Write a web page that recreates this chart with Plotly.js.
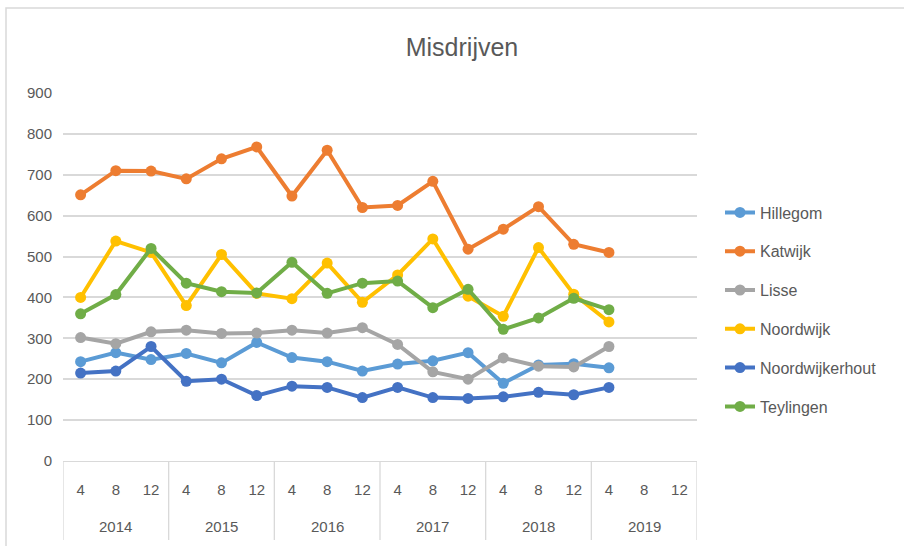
<!DOCTYPE html>
<html><head><meta charset="utf-8">
<script src="https://cdn.plot.ly/plotly-3.0.1.min.js"></script>
<style>html,body{margin:0;padding:0;background:#fff}#chart{width:904px;height:546px}</style>
</head><body><div id="chart"></div>
<script>
const years = ["2014","2015","2016","2017","2018","2019"];
const months = ["4","8","12"];
const hillegom = [243,265,248,263,240,290,253,243,220,237,245,265,190,235,238,228];
const katwijk = [651,710,709,690,739,768,648,760,620,625,684,518,567,622,530,510];
const lisse = [302,287,316,320,312,313,320,313,326,285,218,200,252,232,230,280];
const noordwijk = [400,538,510,380,505,410,397,484,388,455,543,403,354,522,408,340];
const noordwijkerhout = [215,220,280,195,200,160,183,180,155,180,155,153,157,168,162,180];
const teylingen = [360,407,520,435,414,411,486,410,435,440,375,420,322,350,398,370];

const names = ["Hillegom","Katwijk","Lisse","Noordwijk","Noordwijkerhout","Teylingen"];
const series = [hillegom,katwijk,lisse,noordwijk,noordwijkerhout,teylingen];
const colors = ["#5B9BD5","#ED7D31","#A5A5A5","#FFC000","#4472C4","#70AD47"];

// flattened category positions
const catLabels = [];
years.forEach(y => months.forEach(m => catLabels.push(m)));
const catIdx = catLabels.map((_, k) => k);

const traces = series.map((vals, i) => ({
  type: "scatter", mode: "lines+markers", name: names[i],
  x: vals.map((_, k) => catIdx[k]),
  y: vals,
  line: {color: colors[i], width: 4},
  marker: {color: colors[i], size: 11},
  legendgroup: names[i]
}));

const fam = "Liberation Sans, Arial, sans-serif";
const grey = "#595959";
const plotH = 546 - 93 - 85;
const pY = px => (461 - px) / plotH;

const shapes = [{type: "rect", xref: "paper", yref: "paper",
  x0: (6 - 63) / 634, x1: 1.5, y0: -0.5, y1: pY(8),
  line: {color: "#d9d9d9", width: 1.5}, layer: "below"}];
for (let g = 0; g <= years.length; g++) {
  shapes.push({type: "line", xref: "x", yref: "paper",
    x0: g * months.length - 0.5, x1: g * months.length - 0.5, y0: 0, y1: pY(540),
    line: {color: "#d9d9d9", width: 1.3}});
}
const annotations = years.map((y, g) => ({
  text: y, xref: "x", yref: "paper", x: g * months.length + (months.length - 1) / 2,
  y: pY(526), yanchor: "middle", xanchor: "center", showarrow: false,
  font: {family: fam, size: 15, color: grey}
}));

const layout = {
  width: 904, height: 546,
  margin: {l: 63, r: 207, t: 93, b: 85},
  paper_bgcolor: "#fff", plot_bgcolor: "#fff",
  font: {family: fam, color: grey, size: 15},
  title: {text: "Misdrijven", x: 462 / 904, xanchor: "center", y: 1 - 47 / 546, yanchor: "middle",
          font: {family: fam, size: 25, color: grey}},
  xaxis: {range: [-0.5, years.length * months.length - 0.5], tickmode: "array",
          tickvals: catIdx, ticktext: catLabels, showgrid: false, zeroline: false,
          showline: true, linecolor: "#d9d9d9", linewidth: 1.3, ticks: "",
          ticklabelstandoff: 15, tickfont: {family: fam, size: 15, color: grey}},
  yaxis: {range: [0, 900], dtick: 100, showgrid: true, gridcolor: "#d9d9d9", gridwidth: 1.5,
          zeroline: false, showline: false, ticks: "", tickfont: {family: fam, size: 15, color: grey},
          ticklabelstandoff: 10},
  legend: {x: (720 - 63) / 634, xanchor: "left", y: pY(309.5), yanchor: "middle",
           traceorder: "grouped", tracegroupgap: 15,
           font: {family: fam, size: 16, color: grey}},
  showlegend: true,
  shapes: shapes,
  annotations: annotations
};
Plotly.newPlot("chart", traces, layout, {displayModeBar: false});
</script></body></html>
